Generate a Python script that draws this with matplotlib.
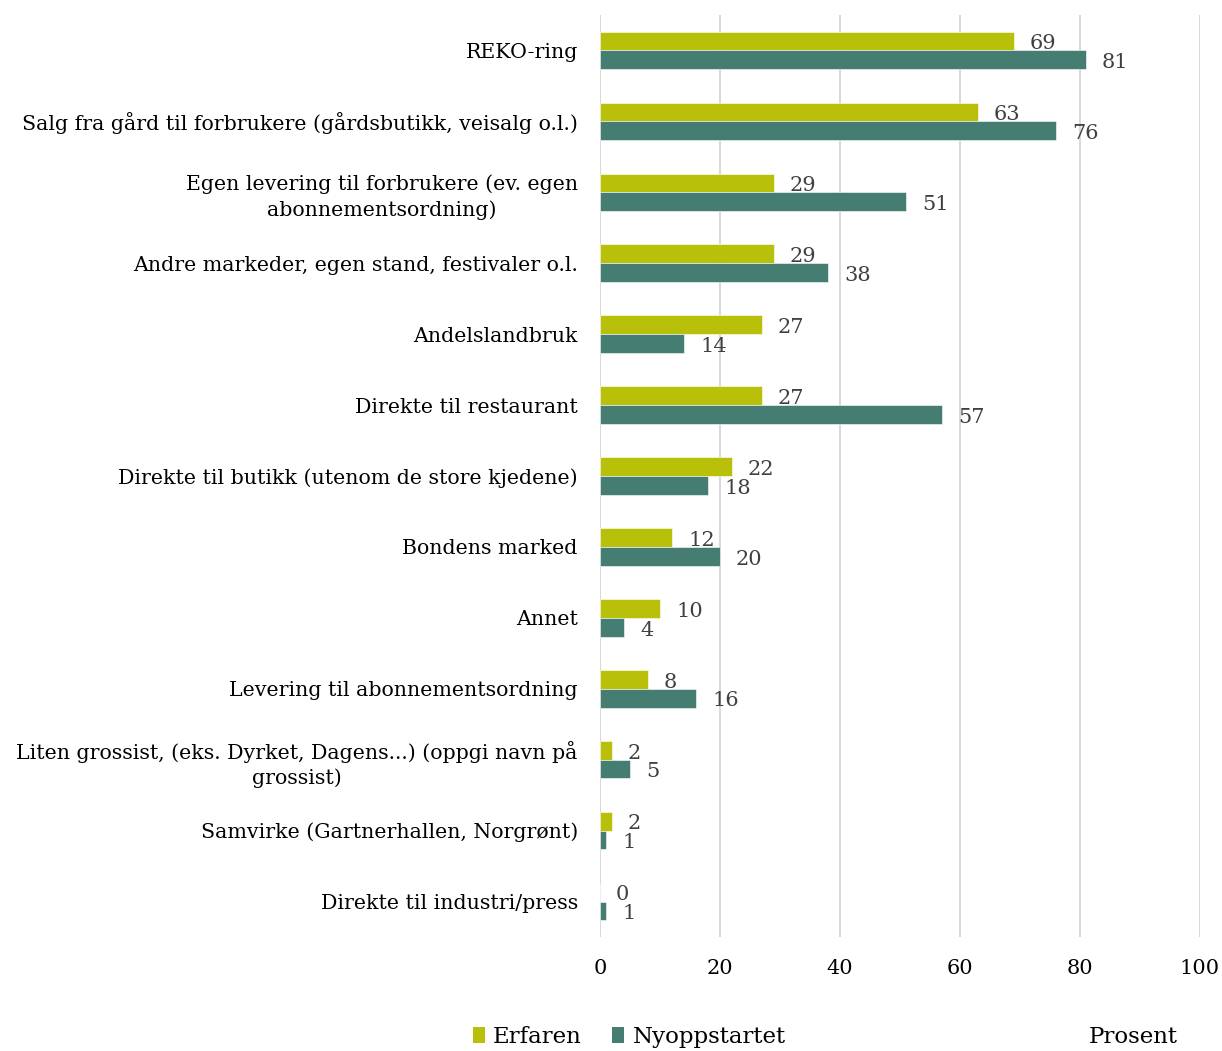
import matplotlib
matplotlib.use("Agg")
import matplotlib.pyplot as plt
from matplotlib.patches import Patch
from matplotlib import transforms
import numpy as np

categories = [
    "REKO-ring",
    "Salg fra gård til forbrukere (gårdsbutikk, veisalg o.l.)",
    "Egen levering til forbrukere (ev. egen\nabonnementsordning)",
    "Andre markeder, egen stand, festivaler o.l.",
    "Andelslandbruk",
    "Direkte til restaurant",
    "Direkte til butikk (utenom de store kjedene)",
    "Bondens marked",
    "Annet",
    "Levering til abonnementsordning",
    "Liten grossist, (eks. Dyrket, Dagens...) (oppgi navn på\ngrossist)",
    "Samvirke (Gartnerhallen, Norgrønt)",
    "Direkte til industri/press",
]
erfaren = [69, 63, 29, 29, 27, 27, 22, 12, 10, 8, 2, 2, 0]
nyoppstartet = [81, 76, 51, 38, 14, 57, 18, 20, 4, 16, 5, 1, 1]
x_ticks = [0, 20, 40, 60, 80, 100]
series_names = ["Erfaren", "Nyoppstartet"]
axis_title = "Prosent"

col_erf = "#B8C00A"
col_ny = "#457D72"
grid_col = "#D9D9D9"
label_col = "#404040"

plt.rcParams["font.family"] = ["DejaVu Serif"]
FS = 14.8
FS_VAL = 15
FS_LEG = 16.5

fig = plt.figure(figsize=(12.22, 10.51), dpi=100)
ax = fig.add_axes([600 / 1222, 114 / 1051, 600 / 1222, 922 / 1051])

y = np.arange(len(categories))
h = 0.265
ax.barh(y - h / 2, erfaren, height=h, color=col_erf, edgecolor="white", linewidth=0.4, zorder=3)
ax.barh(y + h / 2, nyoppstartet, height=h, color=col_ny, edgecolor="white", linewidth=0.4, zorder=3)

# value labels just right of each bar end
off = transforms.offset_copy(ax.transData, fig=fig, x=11.5, y=-2, units="points")
for yi, v in zip(y - h / 2, erfaren):
    ax.text(v, yi, str(v), transform=off, ha="left", va="center",
            fontsize=FS_VAL, color=label_col, zorder=4)
for yi, v in zip(y + h / 2, nyoppstartet):
    ax.text(v, yi, str(v), transform=off, ha="left", va="center",
            fontsize=FS_VAL, color=label_col, zorder=4)

ax.set_xlim(0, 100)
ax.set_ylim(len(categories) - 0.5, -0.5)
ax.set_xticks(x_ticks)
ax.set_xticklabels([str(t) for t in x_ticks], fontsize=FS_VAL)
ax.set_yticks(y)
ax.set_yticklabels(categories, fontsize=FS, multialignment="center", linespacing=1.36)
ax.tick_params(axis="both", length=0)
ax.tick_params(axis="y", pad=16)
ax.tick_params(axis="x", pad=16)
ax.grid(axis="x", color=grid_col, linewidth=1.5, zorder=0)
for s in ax.spines.values():
    s.set_visible(False)

handles = [Patch(facecolor=col_erf, edgecolor="none"), Patch(facecolor=col_ny, edgecolor="none")]
fig.legend(handles, series_names, loc="center left",
           bbox_to_anchor=(452 / 1222, 1 - 1037 / 1051), ncol=2, frameon=False,
           fontsize=FS_LEG, handlelength=0.55, handleheight=0.75,
           handletextpad=0.35, columnspacing=1.3)
fig.text(1133 / 1222, 1 - 1037 / 1051, axis_title, ha="center", va="center", fontsize=FS_LEG)

fig.savefig("out.png", dpi=100, facecolor="white")
